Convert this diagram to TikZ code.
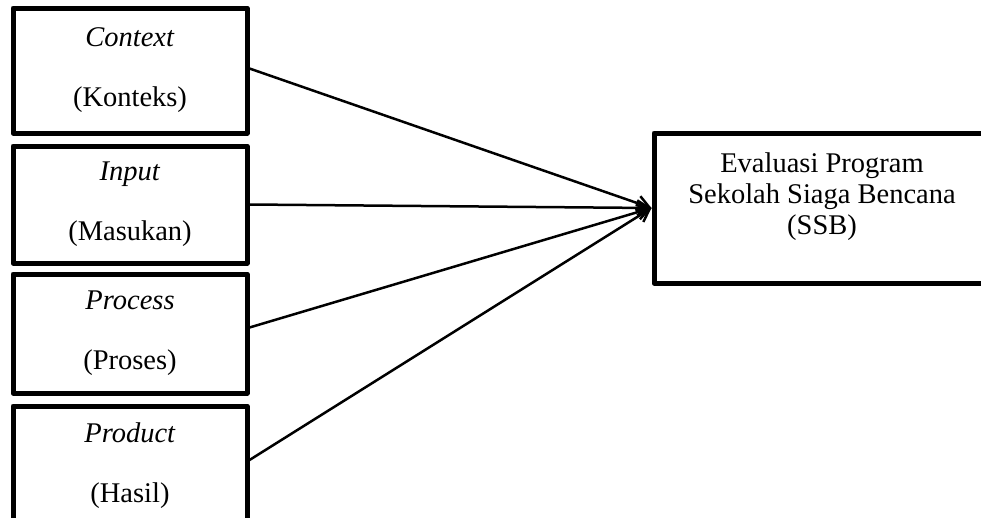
\documentclass[tikz,border=0pt]{standalone}
\usepackage{fontspec}
\setmainfont{Liberation Serif}
\usetikzlibrary{arrows.meta}
\begin{document}
\begin{tikzpicture}[x=1pt,y=-1pt,
  lbox/.style={draw,line width=5pt,line join=round,minimum width=234pt,inner sep=0pt,align=center,
     font=\fontsize{28.5}{60}\selectfont},
  rbox/.style={draw,line width=5pt,line join=round,minimum width=336pt,minimum height=150pt,inner sep=0pt},
  conn/.style={line width=2.5pt,-{Straight Barb[length=12pt,width=15pt,line width=2.5pt]}}]
\useasboundingbox (0,0) rectangle (981,517);
\node[lbox,minimum height=125pt] (c) at (130,70.5) {\textit{Context}\\(Konteks)};
\node[lbox,minimum height=117pt] (i) at (130,204.5) {\textit{Input}\\(Masukan)};
\node[lbox,minimum height=119pt] (p) at (130,333.5) {\textit{Process}\\(Proses)};
\node[lbox,minimum height=120pt] (d) at (130,466) {\textit{Product}\\(Hasil)};
\node[rbox] (ev) at (822,208) {};
\node[anchor=north,inner sep=0pt,align=center,font=\fontsize{28.5}{31}\selectfont] (evt) at (822,153) {Evaluasi Program\\Sekolah Siaga Bencana\\(SSB)};
\draw[conn] ([yshift=2pt]c.east) -- (ev.west);
\draw[conn] (i.east) -- (ev.west);
\draw[conn] ([yshift=6pt]p.east) -- (ev.west);
\draw[conn] ([yshift=6pt]d.east) -- (ev.west);
\end{tikzpicture}
\end{document}
